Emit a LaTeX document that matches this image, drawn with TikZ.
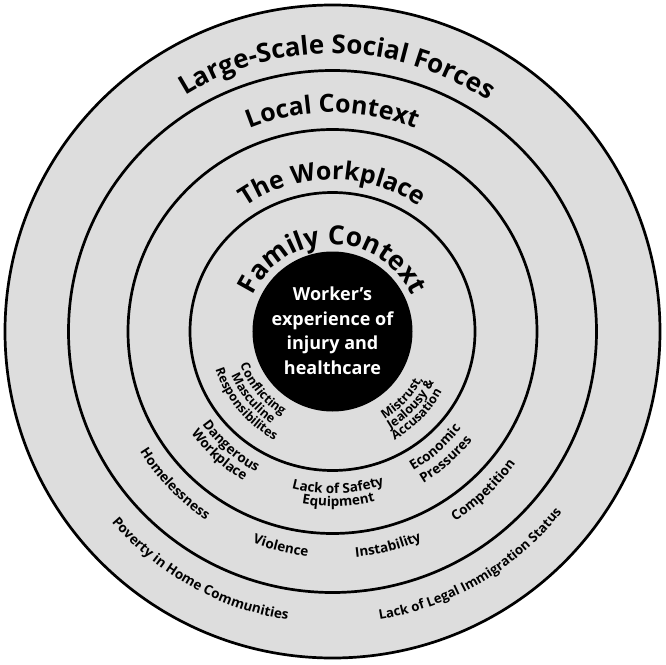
\documentclass[tikz,border=0pt]{standalone}
\usepackage{fontspec}
\setmainfont{Open Sans}
\usetikzlibrary{decorations.text}
\definecolor{ringfill}{RGB}{221,221,221}
\tikzset{
  ringline/.style={line width=2.7pt, draw=black},
  corefont/.style={text=white, align=center, font=\bfseries\fontsize{18}{24.5}\selectfont},
}
% counterclockwise text (bottom, letters face centre): radius, mid angle, half span, size, text
\newcommand{\ccwtext}[5]{%
  \path[decorate,decoration={text along path, text align=center,
    text={|\fontsize{#4}{#4}\selectfont\bfseries|#5}}]
    ({#2-#3}:#1pt) arc[start angle={#2-#3}, end angle={#2+#3}, radius=#1pt];}
% clockwise text (top, letters face outward)
\newcommand{\cwtext}[5]{%
  \path[decorate,decoration={text along path, text align=center,
    text={|\fontsize{#4}{#4}\selectfont\bfseries|#5}}]
    ({#2+#3}:#1pt) arc[start angle={#2+#3}, end angle={#2-#3}, radius=#1pt];}
\begin{document}
\begin{tikzpicture}
\useasboundingbox (-332.5pt,-332.5pt) rectangle (333.5pt,331.5pt);
% rings
\filldraw[ringline, fill=ringfill] (0,0) ellipse[x radius=327.5pt, y radius=326.5pt];
\draw[ringline] (0,0) ellipse[x radius=264pt, y radius=261pt];
\draw[ringline] (0,0) ellipse[x radius=204.5pt, y radius=202pt];
\draw[ringline] (0,0) ellipse[x radius=142.5pt, y radius=139pt];
\fill[black] (0,0) circle[radius=80pt];
\node[corefont] (core) at (0,1pt) {Worker's\\experience of\\injury and\\healthcare};
% ring titles
\cwtext{278}{89}{80}{26}{Large-Scale Social Forces}
\cwtext{219}{90}{80}{25}{Local Context}
\cwtext{152}{90}{80}{25}{The Workplace}
\cwtext{87}{90}{90}{26.5}{Family Context}
% family ring
\ccwtext{98}{219.5}{45}{12.5}{Conflicting}
\ccwtext{110.5}{220}{45}{12.5}{Masculine}
\ccwtext{123}{220}{45}{12.5}{Responsibilites}
\ccwtext{102}{316.5}{45}{12.5}{Mistrust,}
\ccwtext{113.5}{317}{45}{12.5}{Jealousy {\&}}
\ccwtext{125}{315.5}{45}{12.5}{Accusation}
% workplace ring
\ccwtext{160}{228.5}{40}{13.5}{Dangerous}
\ccwtext{174}{227.5}{40}{13.5}{Workplace}
\ccwtext{162}{272}{40}{13.5}{Lack of Safety}
\ccwtext{175}{272}{40}{13.5}{Equipment}
\ccwtext{161}{311.5}{40}{13.5}{Economic}
\ccwtext{177}{311.5}{40}{13.5}{Pressures}
% local ring
\ccwtext{227}{224}{30}{13.5}{Homelessness}
\ccwtext{226}{256.5}{30}{13.5}{Violence}
\ccwtext{227}{284.5}{30}{13.5}{Instability}
\ccwtext{226}{313.5}{30}{13.5}{Competition}
% outer ring
\ccwtext{292}{241}{30}{13.5}{Poverty in Home Communities}
\ccwtext{292}{300.5}{30}{13.2}{Lack of Legal Immigration Status}
\end{tikzpicture}
\end{document}
